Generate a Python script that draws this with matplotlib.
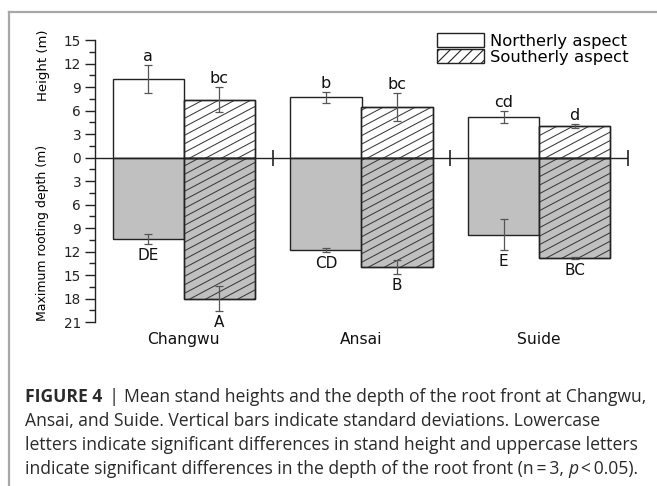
import matplotlib
matplotlib.use("Agg")
import matplotlib.pyplot as plt
from matplotlib.patches import Patch
from matplotlib.lines import Line2D
import numpy as np

# ---- data ----
categories = ["Changwu", "Ansai", "Suide"]
height_north = [10.0, 7.7, 5.15]
height_north_sd = [1.75, 0.7, 0.75]
height_south = [7.4, 6.45, 4.0]
height_south_sd = [1.6, 1.8, 0.25]
depth_north = [10.4, 11.8, 9.85]
depth_north_sd = [0.6, 0.2, 1.95]
depth_south = [18.0, 14.0, 12.85]
depth_south_sd = [1.6, 0.9, 0.1]
letters_height_north = ["a", "b", "cd"]
letters_height_south = ["bc", "bc", "d"]
letters_depth_north = ["DE", "CD", "E"]
letters_depth_south = ["A", "B", "BC"]
series_labels = ["Northerly aspect", "Southerly aspect"]
ytick_values = [-21, -18, -15, -12, -9, -6, -3, 0, 3, 6, 9, 12, 15]

plt.rcParams["font.family"] = ["DejaVu Sans"]
plt.rcParams["hatch.color"] = "#3a3a3a"
plt.rcParams["hatch.linewidth"] = 0.8

W, H = 657, 486
fig = plt.figure(figsize=(W / 100, H / 100), dpi=100)
ax = fig.add_axes([95 / W, 1 - 322 / H, (628 - 95) / W, (322 - 40) / H])

x = np.arange(len(categories))
bw = 0.4
gray = "#c0c0c0"
edge = "#222222"
errc = "#555555"
hatch_col = "#3a3a3a"

ax.set_xlim(-0.5, len(categories) - 0.5)
ax.set_ylim(-21, 15)

# height bars (positive)
ax.bar(x - bw / 2, height_north, bw, color="white", edgecolor=edge, linewidth=1.0, zorder=2)
south_top = ax.bar(x + bw / 2, height_south, bw, color="white", edgecolor=edge, linewidth=1.0, zorder=2)
# depth bars (negative)
ax.bar(x - bw / 2, -np.array(depth_north), bw, color=gray, edgecolor=edge, linewidth=1.0, zorder=2)
south_bot = ax.bar(x + bw / 2, -np.array(depth_south), bw, color=gray, edgecolor=edge, linewidth=1.0, zorder=2)

# custom diagonal hatching (shallow angle like the original)
px_per_x = (ax.transData.transform((1, 0)) - ax.transData.transform((0, 0)))[0]
px_per_y = (ax.transData.transform((0, 1)) - ax.transData.transform((0, 0)))[1]
slope = 0.53 * px_per_x / px_per_y
dy = 8.5 / px_per_y
for patch in list(south_top) + list(south_bot):
    x0, y0 = patch.get_x(), patch.get_y()
    w, h = patch.get_width(), patch.get_height()
    ylo, yhi = min(y0, y0 + h), max(y0, y0 + h)
    start = ylo - slope * w
    k = 0
    while start + k * dy < yhi:
        yy = start + k * dy
        ln, = ax.plot([x0, x0 + w], [yy, yy + slope * w], color=hatch_col, linewidth=0.75, zorder=2.5)
        ln.set_clip_path(patch)
        k += 1
    # redraw the outline on top
    ax.bar(x0 + w / 2, h, w, bottom=y0, facecolor="none", edgecolor=edge, linewidth=1.0, zorder=2.6)

ekw = dict(fmt="none", ecolor=errc, elinewidth=0.9, capsize=3.2, capthick=0.9, zorder=3)
ax.errorbar(x - bw / 2, height_north, yerr=height_north_sd, **ekw)
ax.errorbar(x + bw / 2, height_south, yerr=height_south_sd, **ekw)
ax.errorbar(x - bw / 2, -np.array(depth_north), yerr=depth_north_sd, **ekw)
ax.errorbar(x + bw / 2, -np.array(depth_south), yerr=depth_south_sd, **ekw)

# letters
for i in range(len(categories)):
    for xx, v, sd, t in [(x[i] - bw / 2, height_north[i], height_north_sd[i], letters_height_north[i]),
                         (x[i] + bw / 2, height_south[i], height_south_sd[i], letters_height_south[i])]:
        ax.annotate(t, (xx, v + sd), xytext=(0, 3), textcoords="offset points",
                    ha="center", va="baseline", fontsize=11.5, color="#111111")
    for xx, v, sd, t in [(x[i] - bw / 2, depth_north[i], depth_north_sd[i], letters_depth_north[i]),
                         (x[i] + bw / 2, depth_south[i], depth_south_sd[i], letters_depth_south[i])]:
        ax.annotate(t, (xx, -(v + sd)), xytext=(0, -3), textcoords="offset points",
                    ha="center", va="top", fontsize=11, color="#111111")

# zero line and group separators
ax.axhline(0, color=edge, linewidth=1.0, zorder=4)
ax.plot(x + 0.5, np.zeros(len(x)), linestyle="none", marker="|", markersize=11,
        markeredgewidth=1.2, color=edge, zorder=4, clip_on=False)

ax.set_yticks(ytick_values)
ax.set_yticklabels([str(abs(v)) for v in ytick_values], fontsize=9.8)
ax.set_yticks(np.arange(-21, 15.1, 1.5), minor=True)
ax.tick_params(axis="y", which="major", direction="out", length=7, width=1.0, pad=3, colors=edge)
ax.tick_params(axis="y", which="minor", direction="out", length=4, width=1.0, colors=edge)
ax.tick_params(axis="x", length=0)
ax.set_xticks([])
for s in ["top", "right", "bottom"]:
    ax.spines[s].set_visible(False)
ax.spines["left"].set_linewidth(1.0)
ax.spines["left"].set_color(edge)
ax.patch.set_alpha(0)

# group labels
for i, c in enumerate(categories):
    ax.annotate(c, (x[i], -21), xytext=(0, -12.5), textcoords="offset points",
                ha="center", va="center", fontsize=11.2, color="#111111", annotation_clip=False)

# axis labels
fig.text(43 / W, 1 - 65 / H, "Height (m)", rotation=90, ha="center", va="center", fontsize=9.5)
fig.text(43 / W, 1 - 233 / H, "Maximum rooting depth (m)", rotation=90, ha="center", va="center", fontsize=9)

# legend
handles = [Patch(facecolor="white", edgecolor=edge, linewidth=1.0),
           Patch(facecolor="white", edgecolor=edge, linewidth=1.0, hatch="///")]
fig.legend(handles, series_labels, loc="upper left", bbox_to_anchor=(437 / W, 1 - 33 / H),
           frameon=False, fontsize=11.8, handlelength=2.85, handleheight=0.95,
           labelspacing=0.02, handletextpad=0.4, borderpad=0, borderaxespad=0)

# frame lines
fig.add_artist(Line2D([9 / W, 1], [1 - 12 / H, 1 - 12 / H], transform=fig.transFigure,
                      color="#a8a8a8", linewidth=1.6))
fig.add_artist(Line2D([9 / W, 9 / W], [0, 1 - 12 / H], transform=fig.transFigure,
                      color="#a8a8a8", linewidth=1.6))

# caption
cap_font = "Open Sans"
cap_col = "#2a2a2a"
renderer = fig.canvas.get_renderer()
lines = [
    "Mean stand heights and the depth of the root front at Changwu,",
    "Ansai, and Suide. Vertical bars indicate standard deviations. Lowercase",
    "letters indicate significant differences in stand height and uppercase letters",
    "indicate significant differences in the depth of the root front (n\u2009=\u20093, ",
]
baselines = [402, 426, 450, 474]
x0 = 25
target_right = 652


def draw_line1(fs):
    t_b = fig.text(x0 / W, 1 - baselines[0] / H, "FIGURE 4", fontsize=fs, fontweight="bold",
                   family=cap_font, va="baseline", color=cap_col)
    bb = t_b.get_window_extent(renderer)
    t_bar = fig.text((bb.x1 + 6) / W, 1 - baselines[0] / H, "|", fontsize=fs + 1, family=cap_font,
                     va="baseline", color=cap_col)
    bb2 = t_bar.get_window_extent(renderer)
    t_r = fig.text((bb2.x1 + 6) / W, 1 - baselines[0] / H, lines[0], fontsize=fs, family=cap_font,
                   va="baseline", color=cap_col)
    return [t_b, t_bar, t_r], t_r.get_window_extent(renderer).x1


fs = 11.0
arts, right = draw_line1(fs)
fs = fs * (target_right - x0) / (right - x0)
for a in arts:
    a.remove()
draw_line1(fs)

for ln, yb in zip(lines[1:3], baselines[1:3]):
    fig.text(x0 / W, 1 - yb / H, ln, fontsize=fs, family=cap_font,
             va="baseline", color=cap_col)
t4 = fig.text(x0 / W, 1 - baselines[3] / H, lines[3], fontsize=fs, family=cap_font,
              va="baseline", color=cap_col)
b4 = t4.get_window_extent(renderer)
tp = fig.text(b4.x1 / W, 1 - baselines[3] / H, "p", fontsize=fs, family=cap_font,
              style="italic", va="baseline", color=cap_col)
bp = tp.get_window_extent(renderer)
fig.text(bp.x1 / W, 1 - baselines[3] / H, "\u2009<\u20090.05).", fontsize=fs, family=cap_font,
         va="baseline", color=cap_col)

fig.savefig("out.png", dpi=100)
